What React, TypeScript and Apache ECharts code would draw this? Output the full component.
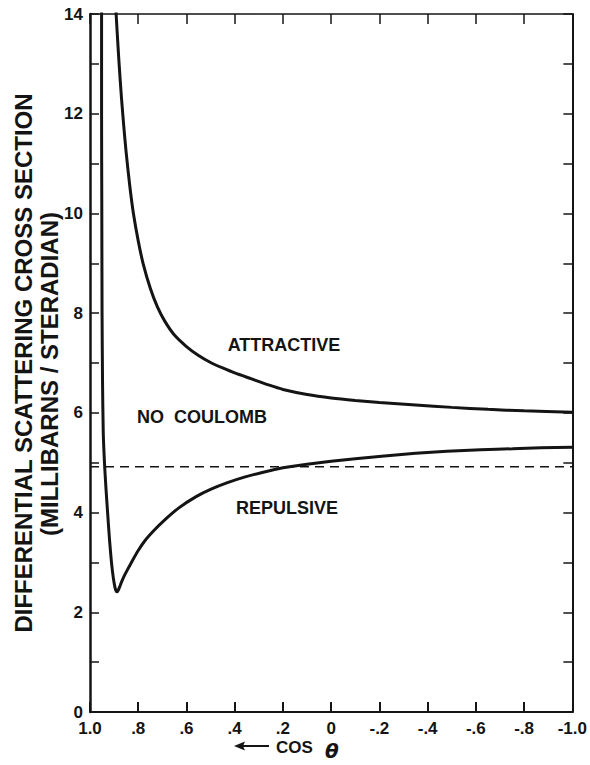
import React, { useEffect, useRef } from "react";
import * as echarts from "echarts";

// cos(theta) tick values and their printed labels
const xTickValues = [1.0, 0.8, 0.6, 0.4, 0.2, 0, -0.2, -0.4, -0.6, -0.8, -1.0];
const xTickLabels = ["1.0", ".8", ".6", ".4", ".2", "0", "-.2", "-.4", "-.6", "-.8", "-1.0"];
// y tick labels (every unit has a tick, only even ones labelled)
const yTickValues = [0, 2, 4, 6, 8, 10, 12, 14];
const yTickLabels = ["0", "2", "4", "6", "8", "10", "12", "14"];

// Attractive Coulomb curve
const attractiveCos = [0.893, 0.891, 0.88, 0.87, 0.86, 0.85, 0.835, 0.82, 0.8, 0.78, 0.75, 0.72, 0.69, 0.65, 0.6, 0.55, 0.5, 0.45, 0.4, 0.33, 0.26, 0.2, 0.1, 0.0, -0.1, -0.2, -0.35, -0.5, -0.65, -0.8, -1.0];
const attractiveSigma = [14.2, 13.94, 13.05, 12.35, 11.75, 11.22, 10.55, 10.0, 9.45, 9.0, 8.5, 8.12, 7.84, 7.56, 7.33, 7.15, 7.01, 6.9, 6.8, 6.68, 6.56, 6.47, 6.37, 6.3, 6.25, 6.21, 6.16, 6.11, 6.07, 6.04, 6.01];

// Repulsive Coulomb curve
const repulsiveCos = [0.952, 0.952, 0.951, 0.95, 0.948, 0.945, 0.94, 0.934, 0.927, 0.919, 0.911, 0.903, 0.896, 0.891, 0.887, 0.883, 0.877, 0.869, 0.858, 0.845, 0.825, 0.8, 0.77, 0.735, 0.7, 0.633, 0.56, 0.498, 0.43, 0.36, 0.29, 0.2, 0.1, 0, -0.1, -0.209, -0.35, -0.48, -0.62, -0.752, -0.87, -1.0];
const repulsiveSigma = [14.3, 12.0, 10.0, 8.0, 6.6, 5.6, 5.0, 4.5, 4.0, 3.45, 3.0, 2.68, 2.49, 2.42, 2.41, 2.44, 2.51, 2.61, 2.73, 2.85, 3.03, 3.24, 3.45, 3.64, 3.81, 4.09, 4.32, 4.47, 4.6, 4.71, 4.8, 4.9, 4.97, 5.03, 5.08, 5.13, 5.19, 5.23, 5.26, 5.28, 5.3, 5.31];

// No Coulomb (constant) cross section
const noCoulombCos = [1.0, -1.0];
const noCoulombSigma = 4.92;

const INK = "#141414";
const FONT = '"Liberation Sans", Arial, sans-serif';

function fmtX(v: number): string {
  for (let i = 0; i < xTickValues.length; i++) {
    if (Math.abs(xTickValues[i] - v) < 1e-6) return xTickLabels[i];
  }
  return "";
}
function fmtY(v: number): string {
  for (let i = 0; i < yTickValues.length; i++) {
    if (Math.abs(yTickValues[i] - v) < 1e-6) return yTickLabels[i];
  }
  return "";
}

export default function App() {
  const ref = useRef<HTMLDivElement>(null);
  useEffect(() => {
    if (!ref.current) return;
    const chart = echarts.init(ref.current, undefined, { renderer: "svg" });
    const attractive = attractiveCos.map((c, i) => [c, attractiveSigma[i]]);
    const repulsive = repulsiveCos.map((c, i) => [c, repulsiveSigma[i]]);
    const noCoulomb = noCoulombCos.map((c) => [c, noCoulombSigma]);

    chart.setOption({
      animation: false,
      backgroundColor: "#ffffff",
      grid: { left: 90, right: 9, top: 14, bottom: 53, containLabel: false },
      xAxis: [
        {
          type: "value",
          min: -1,
          max: 1,
          interval: 0.2,
          inverse: true,
          position: "bottom",
          axisLine: { show: true, onZero: false, lineStyle: { color: INK, width: 2 } },
          axisTick: { show: true, inside: true, length: 10, lineStyle: { color: INK, width: 2 } },
          axisLabel: {
            formatter: fmtX,
            color: INK,
            fontSize: 17,
            fontWeight: "bold",
            fontFamily: FONT,
            margin: 8,
          },
          splitLine: { show: false },
        },
        {
          type: "value",
          min: -1,
          max: 1,
          interval: 0.2,
          inverse: true,
          position: "top",
          axisLine: { show: true, onZero: false, lineStyle: { color: INK, width: 1.5 } },
          axisTick: { show: true, inside: true, length: 10, lineStyle: { color: INK, width: 1.5 } },
          axisLabel: { show: false },
          splitLine: { show: false },
        },
      ],
      yAxis: [
        {
          type: "value",
          min: 0,
          max: 14,
          interval: 1,
          position: "left",
          axisLine: { show: true, onZero: false, lineStyle: { color: INK, width: 2.5 } },
          axisTick: { show: true, inside: true, length: 9, lineStyle: { color: INK, width: 1.5 } },
          axisLabel: {
            formatter: fmtY,
            color: INK,
            fontSize: 17,
            fontWeight: "bold",
            fontFamily: FONT,
            margin: 7,
          },
          splitLine: { show: false },
        },
        {
          type: "value",
          min: 0,
          max: 14,
          interval: 1,
          position: "right",
          axisLine: { show: true, onZero: false, lineStyle: { color: INK, width: 2 } },
          axisTick: { show: true, inside: true, length: 9, lineStyle: { color: INK, width: 1.5 } },
          axisLabel: { show: false },
          splitLine: { show: false },
        },
      ],
      series: [
        {
          name: "No Coulomb",
          type: "line",
          data: noCoulomb,
          showSymbol: false,
          symbol: "none",
          lineStyle: { color: INK, width: 1.6, type: [9, 6] },
          silent: true,
          z: 2,
        },
        {
          name: "Attractive",
          type: "line",
          data: attractive,
          showSymbol: false,
          symbol: "none",
          smooth: 0.25,
          clip: true,
          lineStyle: { color: INK, width: 3 },
          z: 3,
        },
        {
          name: "Repulsive",
          type: "line",
          data: repulsive,
          showSymbol: false,
          symbol: "none",
          smooth: 0.2,
          clip: true,
          lineStyle: { color: INK, width: 3 },
          z: 3,
        },
      ],
      graphic: [
        {
          type: "text",
          x: 23,
          y: 363,
          rotation: Math.PI / 2,
          style: {
            text: "DIFFERENTIAL SCATTERING CROSS SECTION",
            font: `bold 24px ${FONT}`,
            fill: INK,
            textAlign: "center",
            textVerticalAlign: "middle",
          },
        },
        {
          type: "text",
          x: 49,
          y: 374,
          rotation: Math.PI / 2,
          style: {
            text: "(MILLIBARNS / STERADIAN)",
            font: `bold 24px ${FONT}`,
            fill: INK,
            textAlign: "center",
            textVerticalAlign: "middle",
          },
        },
        {
          type: "text",
          x: 284,
          y: 345,
          style: { text: "ATTRACTIVE", font: `bold 18px ${FONT}`, fill: INK, textAlign: "center", textVerticalAlign: "middle" },
        },
        {
          type: "text",
          x: 202,
          y: 417,
          style: { text: "NO  COULOMB", font: `bold 18px ${FONT}`, fill: INK, textAlign: "center", textVerticalAlign: "middle" },
        },
        {
          type: "text",
          x: 287,
          y: 508,
          style: { text: "REPULSIVE", font: `bold 18px ${FONT}`, fill: INK, textAlign: "center", textVerticalAlign: "middle" },
        },
        {
          type: "line",
          shape: { x1: 242, y1: 746, x2: 269, y2: 746 },
          style: { stroke: INK, lineWidth: 2 },
        },
        {
          type: "polygon",
          shape: { points: [[234, 746], [245, 741.5], [243, 746], [245, 750.5]] },
          style: { fill: INK },
        },
        {
          type: "text",
          x: 276,
          y: 747,
          style: { text: "COS", font: `bold 17px ${FONT}`, fill: INK, textAlign: "left", textVerticalAlign: "middle" },
        },
        {
          type: "text",
          x: 325,
          y: 751,
          style: { text: "θ", font: `italic bold 20px "DejaVu Sans", sans-serif`, fill: INK, textAlign: "left", textVerticalAlign: "middle" },
        },
      ],
    });
    return () => chart.dispose();
  }, []);
  return (
    <div
      ref={ref}
      style={{ position: "fixed", left: 0, top: 0, width: 590, height: 765, background: "#fff" }}
    />
  );
}
